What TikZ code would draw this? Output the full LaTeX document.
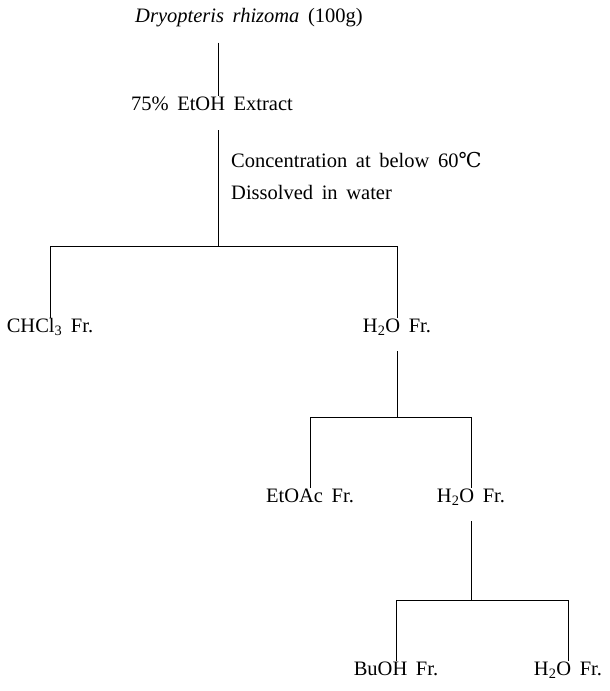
\documentclass[tikz,border=0pt]{standalone}
\usepackage{fontspec}
\setmainfont{Liberation Serif}
\newfontfamily\degfont{DejaVu Serif}
\usetikzlibrary{positioning, calc}
\newcommand{\fracfont}{\fontsize{20.5}{24}\selectfont\spaceskip=0.42em\relax}

\begin{document}
\begin{tikzpicture}[
        x=1pt, y=-1pt,
        frac/.style={inner sep=0pt, anchor=base, font=\fracfont},
        note/.style={inner sep=0pt, anchor=base west, font=\fracfont},
        line/.style={line width=1pt,-}
        ]
        \useasboundingbox (0,0) rectangle (610,691);

        % Nodes
        \node (dryo) [frac] at (249,22) {\textit{Dryopteris rhizoma} (100g)};
        \node (extract) [frac] at (212,110) {75\% EtOH Extract};
        \node (conc) [note] at (231,167) {Concentration at below 60{\degfont ℃}};
        \node (diss) [note] at (231,199) {Dissolved in water};

        \node (chcl) [frac] at (50,332) {CHCl\textsubscript{3} Fr.};
        \node (water1) [frac] at (397,332) {H\textsubscript{2}O Fr.};

        \node (etoac) [frac] at (310,502) {EtOAc Fr.};
        \node (water2) [frac] at (471,502) {H\textsubscript{2}O Fr.};

        \node (buoh) [frac] at (396,675) {BuOH Fr.};
        \node (water3) [frac] at (568,675) {H\textsubscript{2}O Fr.};

        % Split points
        \coordinate (split1) at (218,246);
        \coordinate (split2) at (394,417);
        \coordinate (split3) at (473,600);

        % Lines
        \draw [line] ([yshift=-16pt]dryo.south -| split1) -- (extract.north -| split1);
        \draw [line] ([yshift=-20pt]extract.south -| split1) -- (split1);
        \draw [line] (split1) -| (chcl.north);
        \draw [line] (split1) -| (water1.north);

        \draw [line] ([yshift=-16pt]water1.south) -- (water1.south |- split2);
        \draw [line] (water1.south |- split2) -| (etoac.north);
        \draw [line] (water1.south |- split2) -| (water2.north);

        \draw [line] ([yshift=-16pt]water2.south) -- (water2.south |- split3);
        \draw [line] (water2.south |- split3) -| (buoh.north);
        \draw [line] (water2.south |- split3) -| (water3.north);

\end{tikzpicture}
\end{document}
